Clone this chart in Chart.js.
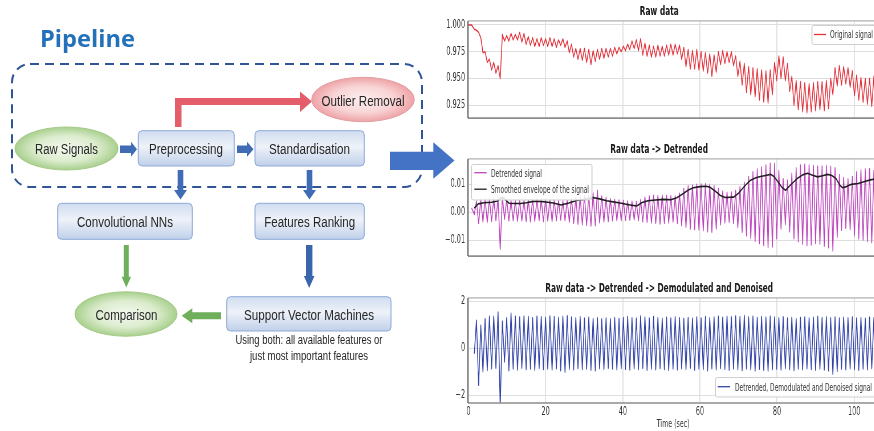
<!DOCTYPE html>
<html>
<head>
<meta charset="utf-8">
<script src="https://cdn.jsdelivr.net/npm/chart.js@4.4.1/dist/chart.umd.min.js"></script>
<style>
html,body{margin:0;padding:0;background:#fff;}
body{width:874px;height:431px;overflow:hidden;position:relative;}
canvas.sq{position:absolute;left:440px;transform:scaleX(0.57);transform-origin:0 0;}
#c1{top:0px;} #c2{top:138px;} #c3{top:277px;}
#ov{position:absolute;left:0;top:0;z-index:2;pointer-events:none;}
</style>
</head>
<body>
<canvas id="c1" class="sq" width="818" height="130"></canvas>
<canvas id="c2" class="sq" width="818" height="130"></canvas>
<canvas id="c3" class="sq" width="818" height="154"></canvas>

<svg id="ov" width="874" height="431" viewBox="0 0 874 431">
<defs>
  <linearGradient id="gBox" x1="0" y1="0" x2="0" y2="1">
    <stop offset="0" stop-color="#d0dcef"/>
    <stop offset="0.45" stop-color="#eef2f9"/>
    <stop offset="1" stop-color="#c0d0e9"/>
  </linearGradient>
  <radialGradient id="gGreen" cx="0.5" cy="0.5" r="0.5">
    <stop offset="0" stop-color="#f4f9ef"/>
    <stop offset="0.6" stop-color="#dcecce"/>
    <stop offset="1" stop-color="#a9d08e"/>
  </radialGradient>
  <radialGradient id="gPink" cx="0.5" cy="0.5" r="0.5">
    <stop offset="0" stop-color="#fdeff0"/>
    <stop offset="0.6" stop-color="#f8d4d5"/>
    <stop offset="1" stop-color="#efa3a7"/>
  </radialGradient>
</defs>

<text x="40" y="46.5" font-family="'Open Sans', sans-serif" font-weight="700" font-size="23" fill="#2371b9" textLength="95" lengthAdjust="spacingAndGlyphs">Pipeline</text>

<rect x="12" y="64" width="410" height="123" rx="18" fill="none" stroke="#2f5597" stroke-width="2" stroke-dasharray="9 6"/>

<polygon points="175,127 175,98 300,98 300,91.5 312,101.5 300,112 300,105 181.5,105 181.5,127" fill="#e35d6a"/>

<polygon points="120,145.5 131,145.5 131,141.7 137,149.2 131,156.7 131,153 120,153" fill="#3f6cb5"/>
<polygon points="237,145.5 247,145.5 247,141.7 253.5,149.2 247,156.7 247,153 237,153" fill="#3f6cb5"/>
<polygon points="177.7,170 183.3,170 183.3,190 187,190 180.5,199.5 174,190 177.7,190" fill="#3f6cb5"/>
<polygon points="306.7,170 312.3,170 312.3,190 316,190 309.5,199.5 303,190 306.7,190" fill="#3f6cb5"/>
<polygon points="123.8,245 128.8,245 128.8,276.7 131,276.7 126.3,287.5 121.6,276.7 123.8,276.7" fill="#6fae5b"/>
<polygon points="306,245 312.4,245 312.4,276 314.5,276 309.2,288 303.9,276 306,276" fill="#3a65ad"/>
<polygon points="221,312.3 192.3,312.3 192.3,308.3 181.7,315.8 192.3,323.3 192.3,319.3 221,319.3" fill="#6fae5b"/>
<polygon points="390,151.7 433.3,151.7 433.3,142.3 454.5,160.6 433.3,178.8 433.3,170 390,170" fill="#4472c4"/>

<ellipse cx="66.5" cy="148.5" rx="51.5" ry="21.5" fill="url(#gGreen)" stroke="#a3c986" stroke-width="1"/>
<ellipse cx="363" cy="99.5" rx="51.3" ry="22.2" fill="url(#gPink)" stroke="#e09ea2" stroke-width="1"/>
<ellipse cx="126" cy="314" rx="51" ry="22.2" fill="url(#gGreen)" stroke="#a3c986" stroke-width="1"/>

<rect x="138.3" y="130.7" width="96" height="35.3" rx="4" fill="url(#gBox)" stroke="#8eaad8" stroke-width="1"/>
<rect x="255" y="130.7" width="109.3" height="35.3" rx="4" fill="url(#gBox)" stroke="#8eaad8" stroke-width="1"/>
<rect x="57.7" y="203.3" width="134.6" height="36" rx="4" fill="url(#gBox)" stroke="#8eaad8" stroke-width="1"/>
<rect x="255" y="203.3" width="109.3" height="36" rx="4" fill="url(#gBox)" stroke="#8eaad8" stroke-width="1"/>
<rect x="226.7" y="296.7" width="164.3" height="34.3" rx="4" fill="url(#gBox)" stroke="#8eaad8" stroke-width="1"/>

<g font-family="'Liberation Sans', Arial, sans-serif" font-size="15.5" fill="#262626" text-anchor="middle">
  <text x="66.5" y="154" textLength="63" lengthAdjust="spacingAndGlyphs">Raw Signals</text>
  <text x="186" y="154" textLength="74" lengthAdjust="spacingAndGlyphs">Preprocessing</text>
  <text x="309.5" y="154" textLength="81" lengthAdjust="spacingAndGlyphs">Standardisation</text>
  <text x="363" y="106" textLength="83" lengthAdjust="spacingAndGlyphs">Outlier Removal</text>
  <text x="125" y="226.7" textLength="96" lengthAdjust="spacingAndGlyphs">Convolutional NNs</text>
  <text x="309.7" y="226.7" textLength="91" lengthAdjust="spacingAndGlyphs">Features Ranking</text>
  <text x="126.5" y="320" textLength="62" lengthAdjust="spacingAndGlyphs">Comparison</text>
  <text x="309" y="320" textLength="130" lengthAdjust="spacingAndGlyphs">Support Vector Machines</text>
  <text x="309" y="344.3" font-size="12.5" textLength="147" lengthAdjust="spacingAndGlyphs">Using both: all available features or</text>
  <text x="309" y="360" font-size="12.5" textLength="118" lengthAdjust="spacingAndGlyphs">just most important features</text>
</g>

<g font-family="'DejaVu Sans', sans-serif" font-size="10.5" fill="#333">
  <rect x="812" y="25.5" width="70" height="19" rx="2" fill="#fff" fill-opacity="0.85" stroke="#cfcfcf" stroke-width="1"/>
  <line x1="814" y1="34.5" x2="826" y2="34.5" stroke="#e3323c" stroke-width="1.3"/>
  <text x="830" y="38.3" textLength="43" lengthAdjust="spacingAndGlyphs">Original signal</text>

  <rect x="471.5" y="164.5" width="120.5" height="35.5" rx="2" fill="#fff" fill-opacity="0.85" stroke="#cfcfcf" stroke-width="1"/>
  <line x1="474.3" y1="172.7" x2="486.7" y2="172.7" stroke="#bd46bd" stroke-width="1.3"/>
  <text x="491" y="176.6" textLength="51" lengthAdjust="spacingAndGlyphs">Detrended signal</text>
  <line x1="474.3" y1="189.2" x2="486.7" y2="189.2" stroke="#1e1e1e" stroke-width="1.3"/>
  <text x="491" y="193.1" textLength="98" lengthAdjust="spacingAndGlyphs">Smoothed envelope of the signal</text>

  <rect x="715.5" y="377.5" width="170" height="19.5" rx="2" fill="#fff" fill-opacity="0.85" stroke="#cfcfcf" stroke-width="1"/>
  <line x1="717.7" y1="386.7" x2="730" y2="386.7" stroke="#3344a8" stroke-width="1.3"/>
  <text x="735" y="390.6" textLength="137" lengthAdjust="spacingAndGlyphs">Detrended, Demodulated and Denoised signal</text>
</g>
</svg>

<script>
// ---- data ----
const time = [0, 0.8,
  1.5, 2.06, 2.62, 3.18, 3.74, 4.3, 4.86, 5.42, 5.98, 6.54,
  7.1, 7.66, 8.22, 8.78, 9.34, 9.9, 10.46, 11.02, 11.58, 12.14,
  12.7, 13.26, 13.82, 14.38, 14.94, 15.5, 16.06, 16.62, 17.18, 17.74,
  18.3, 18.86, 19.42, 19.98, 20.54, 21.1, 21.66, 22.22, 22.78, 23.34,
  23.9, 24.46, 25.02, 25.58, 26.14, 26.7, 27.26, 27.82, 28.38, 28.94,
  29.5, 30.06, 30.62, 31.18, 31.74, 32.3, 32.86, 33.42, 33.98, 34.54,
  35.1, 35.66, 36.22, 36.78, 37.34, 37.9, 38.46, 39.02, 39.58, 40.14,
  40.7, 41.26, 41.82, 42.38, 42.94, 43.5, 44.06, 44.62, 45.18, 45.74,
  46.3, 46.86, 47.42, 47.98, 48.54, 49.1, 49.66, 50.22, 50.78, 51.34,
  51.9, 52.46, 53.02, 53.58, 54.14, 54.7, 55.26, 55.82, 56.38, 56.94,
  57.5, 58.06, 58.62, 59.18, 59.74, 60.3, 60.86, 61.42, 61.98, 62.54,
  63.1, 63.66, 64.22, 64.78, 65.34, 65.9, 66.46, 67.02, 67.58, 68.14,
  68.7, 69.26, 69.82, 70.38, 70.94, 71.5, 72.06, 72.62, 73.18, 73.74,
  74.3, 74.86, 75.42, 75.98, 76.54, 77.1, 77.66, 78.22, 78.78, 79.34,
  79.9, 80.46, 81.02, 81.58, 82.14, 82.7, 83.26, 83.82, 84.38, 84.94,
  85.5, 86.06, 86.62, 87.18, 87.74, 88.3, 88.86, 89.42, 89.98, 90.54,
  91.1, 91.66, 92.22, 92.78, 93.34, 93.9, 94.46, 95.02, 95.58, 96.14,
  96.7, 97.26, 97.82, 98.38, 98.94, 99.5, 100.06, 100.62, 101.18, 101.74,
  102.3, 102.86, 103.42, 103.98, 104.54, 105.1, 105.66, 106.22];

const rawSignal = [1.000, 1.000,
  0.996,0.995, 0.993,0.988, 0.974,0.975, 0.965,0.968, 0.958,0.965,
  0.955,0.962, 0.950,0.991, 0.985,0.990, 0.985,0.992, 0.986,0.991,
  0.986,0.993, 0.984,0.992, 0.982,0.989, 0.981,0.988, 0.980,0.987,
  0.980,0.988, 0.981,0.987, 0.980,0.988, 0.980,0.987, 0.979,0.986,
  0.981,0.987, 0.979,0.985, 0.974,0.982, 0.970,0.978, 0.968,0.978,
  0.967,0.978, 0.965,0.977, 0.963,0.976, 0.966,0.977, 0.968,0.978,
  0.969,0.978, 0.970,0.978, 0.971,0.979, 0.973,0.979, 0.975,0.980,
  0.976,0.982, 0.977,0.985, 0.978,0.986, 0.976,0.987, 0.972,0.983,
  0.971,0.981, 0.970,0.980, 0.970,0.981, 0.971,0.980, 0.971,0.981,
  0.972,0.982, 0.972,0.982, 0.973,0.981, 0.968,0.979, 0.961,0.977,
  0.959,0.976, 0.959,0.977, 0.958,0.975, 0.957,0.974, 0.955,0.973,
  0.952,0.972, 0.956,0.975, 0.963,0.976, 0.964,0.975, 0.965,0.975,
  0.962,0.971, 0.952,0.966, 0.944,0.964, 0.937,0.961, 0.935,0.960,
  0.933,0.959, 0.930,0.958, 0.928,0.957, 0.927,0.958, 0.935,0.965,
  0.948,0.971, 0.950,0.970, 0.948,0.964, 0.938,0.952, 0.925,0.948,
  0.921,0.947, 0.919,0.946, 0.918,0.945, 0.919,0.946, 0.920,0.947,
  0.921,0.947, 0.920,0.948, 0.922,0.950, 0.935,0.960, 0.943,0.962,
  0.944,0.961, 0.945,0.960, 0.942,0.957, 0.934,0.953, 0.930,0.951,
  0.928,0.950, 0.926,0.950, 0.924,0.952, 0.930,0.954];

const detrendedSignal = [null, 0.0015,
  -0.0008,0.0040, -0.0040,0.0045, -0.0035,0.0048, -0.0036,0.0047, -0.0033,0.0050,
  -0.0030,0.0052, -0.0133,0.0055, -0.0025,0.0046, -0.0031,0.0042, -0.0030,0.0041,
  -0.0032,0.0042, -0.0031,0.0043, -0.0033,0.0045, -0.0034,0.0046, -0.0032,0.0047,
  -0.0030,0.0047, -0.0033,0.0046, -0.0031,0.0046, -0.0033,0.0044, -0.0030,0.0042,
  -0.0028,0.0041, -0.0030,0.0045, -0.0036,0.0050, -0.0040,0.0055, -0.0043,0.0058,
  -0.0045,0.0060, -0.0047,0.0062, -0.0050,0.0070, -0.0048,0.0078, -0.0038,0.0058,
  -0.0035,0.0052, -0.0033,0.0048, -0.0031,0.0046, -0.0030,0.0044, -0.0030,0.0042,
  -0.0029,0.0040, -0.0028,0.0039, -0.0027,0.0038, -0.0030,0.0045, -0.0034,0.0055,
  -0.0036,0.0058, -0.0038,0.0060, -0.0040,0.0060, -0.0042,0.0061, -0.0040,0.0060,
  -0.0038,0.0059, -0.0035,0.0058, -0.0040,0.0068, -0.0048,0.0085, -0.0055,0.0095,
  -0.0060,0.0098, -0.0062,0.0100, -0.0064,0.0101, -0.0066,0.0102, -0.0070,0.0100,
  -0.0072,0.0096, -0.0060,0.0085, -0.0045,0.0075, -0.0038,0.0072, -0.0036,0.0073,
  -0.0040,0.0078, -0.0055,0.0092, -0.0072,0.0108, -0.0085,0.0128, -0.0095,0.0145,
  -0.0105,0.0155, -0.0112,0.0162, -0.0120,0.0170, -0.0128,0.0176, -0.0125,0.0175,
  -0.0095,0.0150, -0.0060,0.0120, -0.0045,0.0115, -0.0070,0.0140, -0.0095,0.0160,
  -0.0106,0.0170, -0.0115,0.0172, -0.0120,0.0170, -0.0118,0.0168, -0.0112,0.0165,
  -0.0115,0.0166, -0.0122,0.0168, -0.0128,0.0165, -0.0139,0.0160, -0.0090,0.0135,
  -0.0065,0.0125, -0.0058,0.0120, -0.0062,0.0128, -0.0085,0.0145, -0.0095,0.0152,
  -0.0100,0.0155, -0.0105,0.0156, -0.0110,0.0150, -0.0100,0.0145];

const envTime = [1.5, 2.5, 4, 6, 7.5, 8.5, 9.2, 10.5, 12, 13.5, 15, 16.8, 18.6, 20.5, 22, 24,
  26, 28, 30, 32.2, 34, 35.8, 37.5, 39.3, 41.5, 43.6, 45, 46.5, 48.5, 50.5, 52.5, 54,
  55.7, 57, 58.3, 60, 61.5, 62.6, 64, 65.3, 66.5, 68.7, 70, 70.9, 72, 73.1, 74.5, 75.7,
  77, 78.3, 79.2, 80.1, 81.2, 82.2, 83.5, 85.3, 86.6, 87.9, 89.2, 90.5, 91.8, 93.1,
  94.2, 95.3, 96.2, 97, 98, 99.2, 101, 102.7, 104.2, 105.7];
const envelope = [0.0015, 0.0030, 0.0034, 0.0036, 0.0040, 0.0052, 0.0050, 0.0032, 0.0031, 0.0031, 0.0034, 0.0039, 0.0039, 0.0036, 0.0033, 0.0026,
  0.0033, 0.0042, 0.0046, 0.0053, 0.0048, 0.0041, 0.0037, 0.0033, 0.0027, 0.0022, 0.0035, 0.0041, 0.0044, 0.0046, 0.0045, 0.0052,
  0.0067, 0.0080, 0.0088, 0.0092, 0.0093, 0.0090, 0.0075, 0.0060, 0.0053, 0.0054, 0.0068, 0.0083, 0.0100, 0.0115, 0.0124, 0.0128,
  0.0132, 0.0136, 0.0128, 0.0112, 0.0090, 0.0079, 0.0098, 0.0122, 0.0134, 0.0140, 0.0133, 0.0127, 0.0131, 0.0136,
  0.0132, 0.0120, 0.0098, 0.0088, 0.0092, 0.0100, 0.0103, 0.0110, 0.0116, 0.0120];

const demodSignal = [null, null,
  -0.23,1.19, -1.57,0.98, -1.00,1.26, -0.94,1.37, -0.87,1.37,
  -0.85,1.55, -2.50,1.15, -0.58,1.30, -0.95,1.50, -0.88,1.36,
  -0.92,1.33, -0.85,1.38, -0.90,1.35, -0.88,1.30, -0.93,1.37,
  -0.86,1.34, -0.90,1.32, -0.88,1.38, -0.92,1.35, -0.87,1.31,
  -0.95,1.36, -1.02,1.39, -0.89,1.33, -0.91,1.30, -0.86,1.34,
  -0.90,1.28, -0.88,1.32, -0.93,1.27, -0.95,1.30, -0.87,1.25,
  -0.90,1.29, -0.85,1.26, -0.88,1.30, -0.91,1.27, -0.86,1.31,
  -0.89,1.35, -0.92,1.30, -0.87,1.28, -0.90,1.38, -0.85,1.33,
  -0.93,1.29, -0.88,1.35, -0.91,1.31, -0.86,1.27, -0.90,1.32,
  -0.94,1.29, -0.88,1.34, -0.91,1.30, -0.87,1.27, -0.90,1.31,
  -0.85,1.28, -0.92,1.33, -0.88,1.29, -0.90,1.35, -0.95,1.30,
  -0.87,1.33, -0.91,1.36, -0.86,1.32, -0.89,1.37, -0.93,1.34,
  -0.88,1.38, -0.90,1.35, -0.94,1.40, -0.87,1.33, -0.91,1.36,
  -0.96,1.31, -0.89,1.35, -0.93,1.32, -0.97,1.37, -0.90,1.33,
  -0.88,1.30, -0.92,1.34, -0.86,1.29, -0.90,1.32, -0.94,1.27,
  -0.88,1.31, -0.91,1.33, -0.87,1.29, -0.90,1.32, -0.93,1.35,
  -0.89,1.31, -0.92,1.34, -0.95,1.30, -1.10,1.33, -0.98,1.29,
  -0.88,1.32, -0.91,1.30, -0.87,1.33, -0.90,1.29, -0.93,1.31,
  -0.88,1.28, -0.91,1.32, -0.86,1.30, -0.90,1.27];

const timeTicks = [0, 20, 40, 60, 80, 100];
const rawTicks = [0.925, 0.950, 0.975, 1.000];
const rawTickLabels = ['0.925', '0.950', '0.975', '1.000'];
const detTicks = [-0.01, 0, 0.01];
const detTickLabels = ['\u22120.01', '0.00', '0.01'];
const demodTicks = [-2, 0, 2];
const demodTickLabels = ['\u22122', '0', '2'];
const chartTitles = ['Raw data', 'Raw data -> Detrended', 'Raw data -> Detrended -> Demodulated and Denoised'];
const seriesNames = ['Original signal', 'Detrended signal', 'Smoothed envelope of the signal', 'Detrended, Demodulated and Denoised signal'];

// ---- drawing ----
const FONT = "'DejaVu Sans', 'Liberation Sans', sans-serif";

function toPoints(xs, ys) {
  const out = [];
  for (let i = 0; i < xs.length; i++) {
    if (ys[i] !== null && ys[i] !== undefined) out.push({x: xs[i], y: ys[i]});
  }
  return out;
}

const framePlugin = {
  id: 'frame',
  afterDatasetsDraw(chart) {
    const {ctx, chartArea: a} = chart;
    ctx.save();
    ctx.strokeStyle = '#b0b0b0'; ctx.lineWidth = 1.2;
    ctx.beginPath(); ctx.moveTo(a.left, a.top); ctx.lineTo(a.right, a.top); ctx.stroke();
    ctx.strokeStyle = '#8c8c8c'; ctx.lineWidth = 1.6;
    ctx.beginPath(); ctx.moveTo(a.left, a.bottom); ctx.lineTo(a.right, a.bottom); ctx.stroke();
    ctx.strokeStyle = '#5a5a5a'; ctx.lineWidth = 2;
    ctx.beginPath(); ctx.moveTo(a.left, a.top); ctx.lineTo(a.left, a.bottom); ctx.stroke();
    ctx.restore();
  }
};

function makeChart(id, datasets, title, yMin, yMax, yTicks, yLabels, showX, xAxisH) {
  return new Chart(document.getElementById(id), {
    type: 'line',
    data: {datasets},
    options: {
      responsive: false,
      animation: false,
      devicePixelRatio: 1,
      layout: {padding: {left: 0, right: 49, top: 0, bottom: 0}},
      elements: {point: {radius: 0}, line: {tension: 0, borderJoinStyle: 'round'}},
      plugins: {
        legend: {display: false},
        tooltip: {enabled: false},
        title: {display: true, text: title, color: '#1a1a1a',
          font: {family: FONT, size: 13, weight: 'bold', lineHeight: 1.15}, padding: {top: 4.5, bottom: 1.5}}
      },
      scales: {
        x: {
          type: 'linear', min: -0.15, max: 106.25,
          afterBuildTicks: s => { s.ticks = timeTicks.map(v => ({value: v})); },
          afterFit: s => { s.height = xAxisH; },
          ticks: {display: showX, font: {family: FONT, size: 11.5}, color: '#333', padding: 2, maxRotation: 0, autoSkip: false},
          grid: {color: '#dedede', lineWidth: 1.75, drawTicks: false},
          border: {display: false},
          title: {display: showX, text: 'Time (sec)', color: '#333', font: {family: FONT, size: 11}, padding: {top: 0, bottom: 0}}
        },
        y: {
          min: yMin, max: yMax,
          afterBuildTicks: s => { s.ticks = yTicks.map(v => ({value: v})); },
          afterFit: s => { s.width = 49; },
          ticks: {font: {family: FONT, size: 11.5}, color: '#333', padding: 5, autoSkip: false,
            callback: (v, i) => yLabels[i]},
          grid: {color: '#dedede', lineWidth: 1, drawTicks: false},
          border: {display: false}
        }
      }
    },
    plugins: [framePlugin]
  });
}

makeChart('c1', [
  {label: seriesNames[0], data: toPoints(time, rawSignal), borderColor: '#e3323c', borderWidth: 1.5}
], chartTitles[0], 0.913, 1.0037, rawTicks, rawTickLabels, false, 4);

makeChart('c2', [
  {label: seriesNames[2], data: toPoints(envTime, envelope), borderColor: '#1e1e1e', borderWidth: 1.6, order: 0},
  {label: seriesNames[1], data: toPoints(time, detrendedSignal), borderColor: '#bd46bd', borderWidth: 1.5, order: 1}
], chartTitles[1], -0.01577, 0.01913, detTicks, detTickLabels, false, 4);

makeChart('c3', [
  {label: seriesNames[3], data: toPoints(time, demodSignal), borderColor: '#3344a8', borderWidth: 1.5}
], chartTitles[2], -2.327, 2.144, demodTicks, demodTickLabels, true, 28);
</script>
</body>
</html>
